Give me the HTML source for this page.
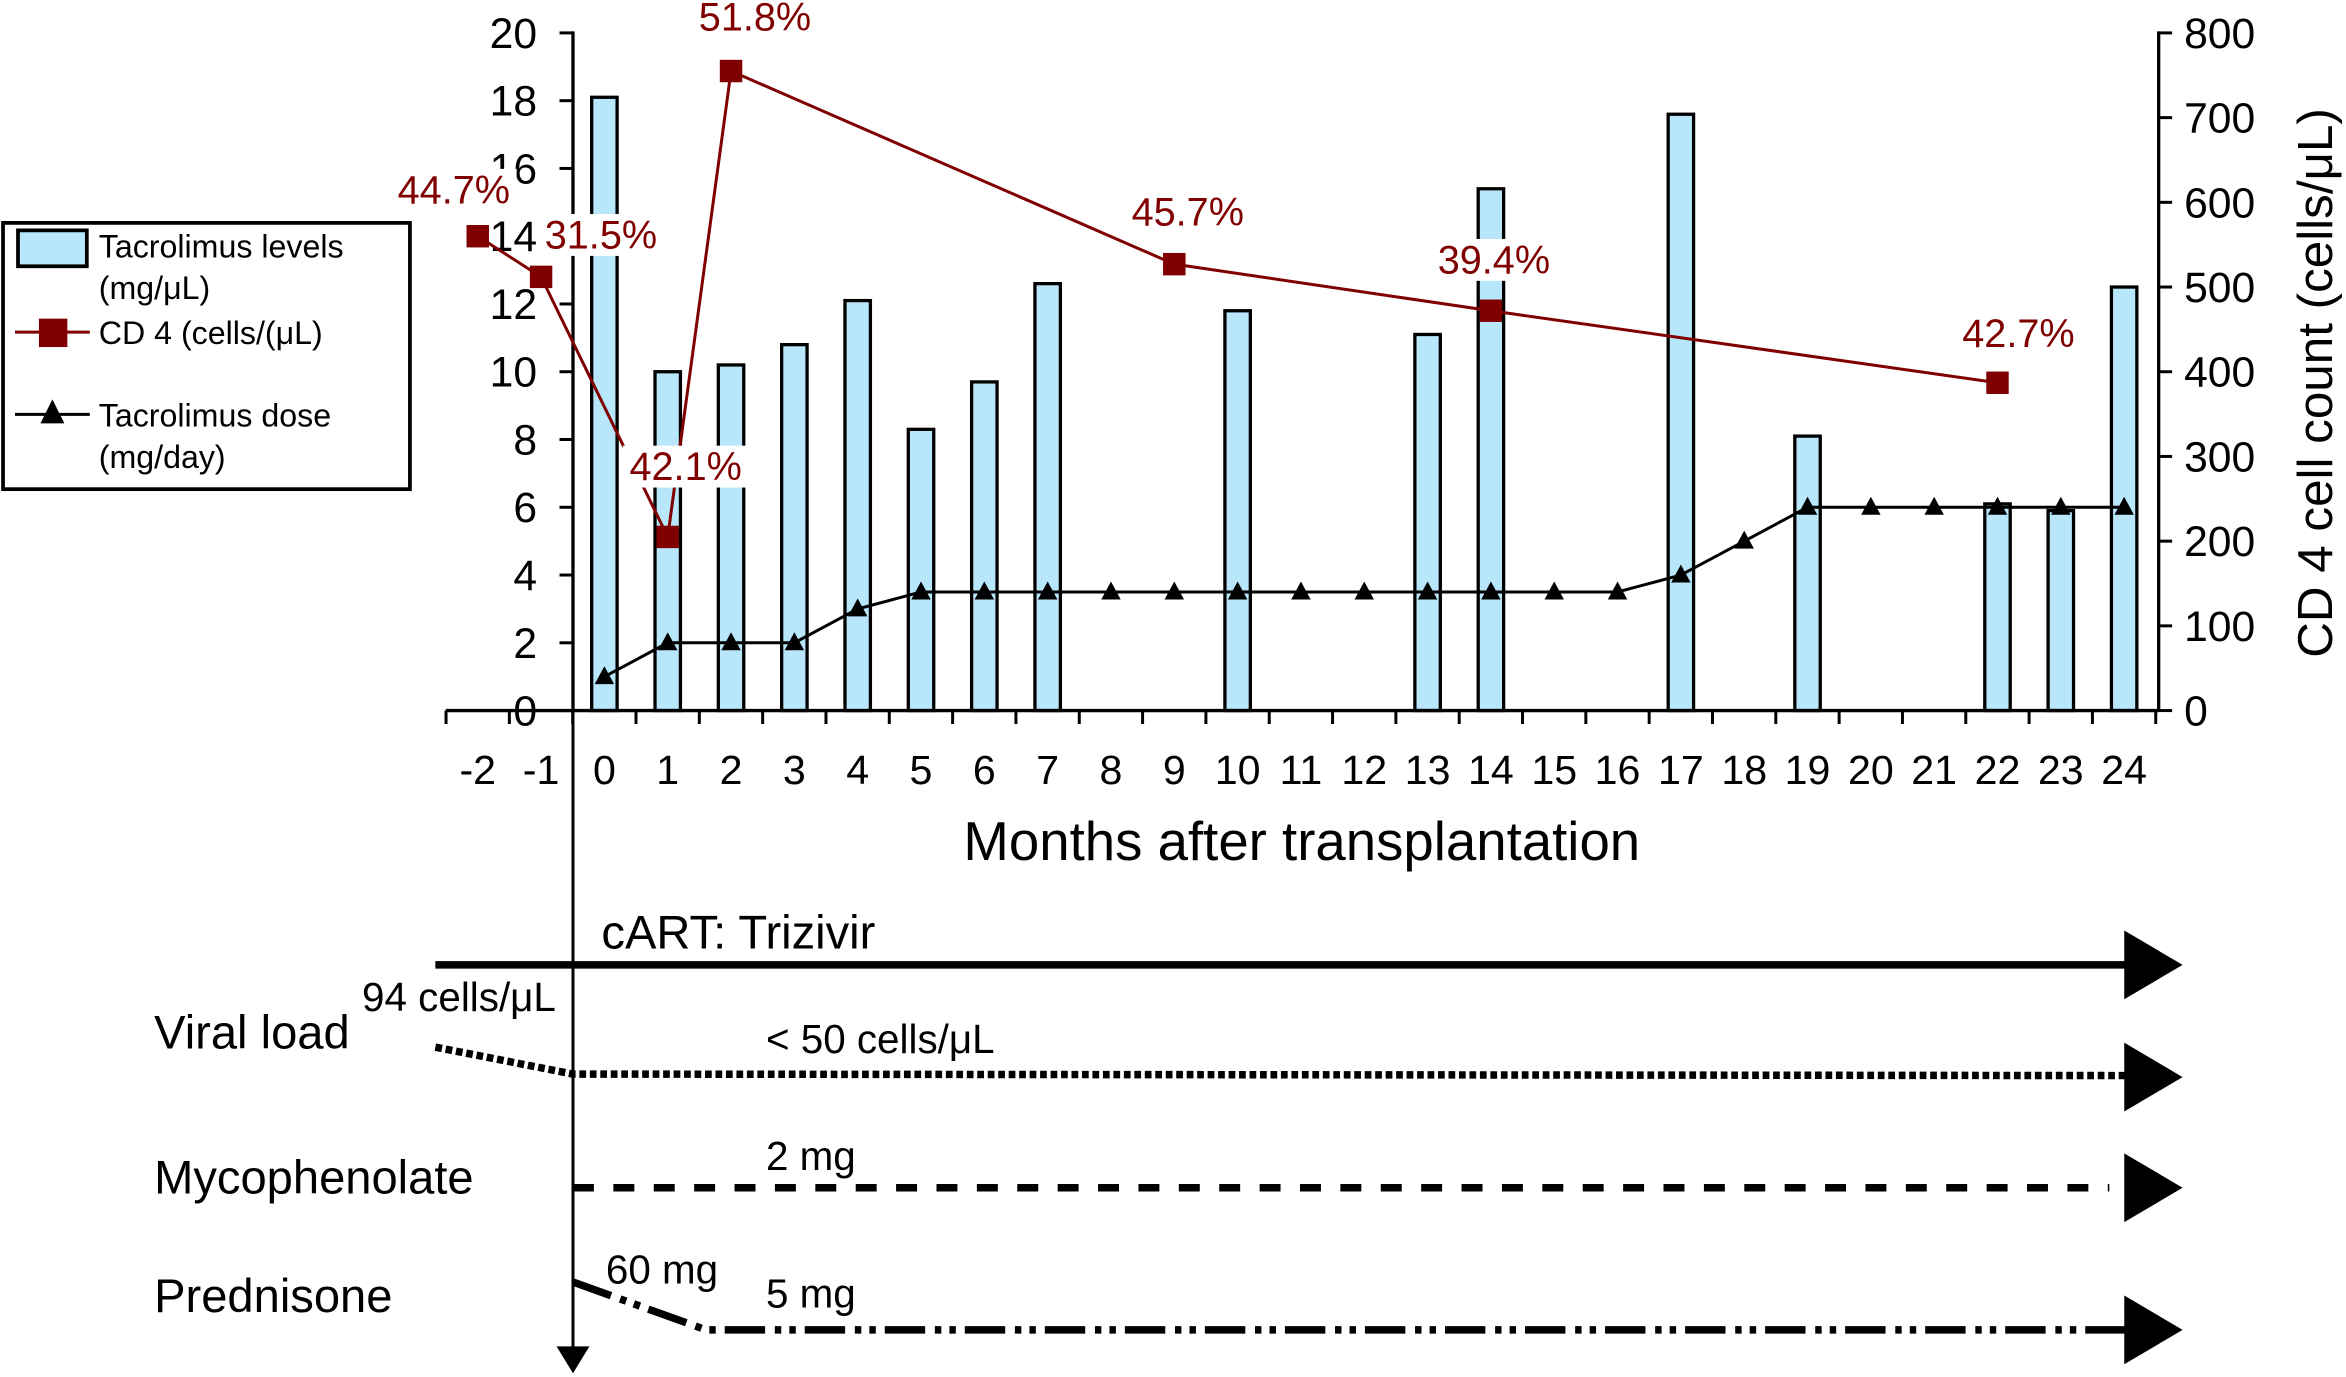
<!DOCTYPE html>
<html><head><meta charset="utf-8"><style>
html,body{margin:0;padding:0;background:#fff}
svg{display:block}
text{font-family:"Liberation Sans",sans-serif}
</style></head><body>
<svg id="chart" width="2346" height="1377" viewBox="0 0 1568.2 920.5" xmlns="http://www.w3.org/2000/svg">
<g id="g-plot"></g>
<g id="legend">
  <rect x="2" y="149" width="272" height="178" fill="#fff" stroke="#000" stroke-width="2.5"/>
  <rect x="12" y="154" width="46" height="24" fill="#b8e6fa" stroke="#000" stroke-width="2.5"/>
  <text x="66" y="172" font-size="21.5">Tacrolimus levels</text>
  <text x="66" y="200" font-size="21.5">(mg/μL)</text>
  <line x1="10" y1="222" x2="60" y2="222" stroke="#800000" stroke-width="2"/>
  <rect x="26" y="213" width="19" height="19" fill="#800000"/>
  <text x="66" y="230" font-size="21.5">CD 4 (cells/(μL)</text>
  <line x1="10" y1="277" x2="60" y2="277" stroke="#000" stroke-width="2"/>
  <polygon points="35,267 27,283 43,283" fill="#000"/>
  <text x="66" y="285" font-size="21.5">Tacrolimus dose</text>
  <text x="66" y="313" font-size="21.5">(mg/day)</text>
</g>
<g id="timeline">
  <text x="644" y="575" font-size="36.5">Months after transplantation</text>
  <line x1="383" y1="475" x2="383" y2="905" stroke="#000" stroke-width="2"/>
  <polygon points="372,900 394,900 383,918" fill="#000"/>
  <text x="402" y="634" font-size="31.5">cART: Trizivir</text>
  <line x1="291" y1="645" x2="1422" y2="645" stroke="#000" stroke-width="5"/>
  <polygon points="1420,622 1459,645 1420,668" fill="#000"/>
  <text x="103" y="701" font-size="31.5">Viral load</text>
  <text x="242" y="676" font-size="27">94 cells/μL</text>
  <text x="512" y="704" font-size="27">&lt; 50 cells/μL</text>
  <polyline points="291,700 383,718 1422,719" fill="none" stroke="#000" stroke-width="5" stroke-dasharray="4.5,2.5"/>
  <polygon points="1420,697 1459,720 1420,743" fill="#000"/>
  <text x="103" y="798" font-size="31.5">Mycophenolate</text>
  <text x="512" y="782" font-size="27">2 mg</text>
  <line x1="383" y1="794" x2="1410" y2="794" stroke="#000" stroke-width="5" stroke-dasharray="14,13"/>
  <polygon points="1420,771 1459,794 1420,817" fill="#000"/>
  <text x="103" y="877" font-size="31.5">Prednisone</text>
  <text x="405" y="858" font-size="27">60 mg</text>
  <text x="512" y="874" font-size="27">5 mg</text>
  <polyline points="383,857 472,889 1422,889" fill="none" stroke="#000" stroke-width="5" stroke-dasharray="27,6.5,4.3,5.4,4.3,6"/>
  <polygon points="1420,866 1459,889 1420,912" fill="#000"/>
</g>
</svg>
<script>
const months = [-2,-1,0,1,2,3,4,5,6,7,8,9,10,11,12,13,14,15,16,17,18,19,20,21,22,23,24];
const barMonths = [0,1,2,3,4,5,6,7,10,13,14,17,19,22,23,24];
const barLevels = [18.1,10,10.2,10.8,12.1,8.3,9.7,12.6,11.8,11.1,15.4,17.6,8.1,6.1,5.9,12.5];
const doseMonths = [0,1,2,3,4,5,6,7,8,9,10,11,12,13,14,15,16,17,18,19,20,21,22,23,24];
const doseValues = [1,2,2,2,3,3.5,3.5,3.5,3.5,3.5,3.5,3.5,3.5,3.5,3.5,3.5,3.5,4,5,6,6,6,6,6,6];
const cd4Months = [-2,-1,1,2,9,14,22];
const cd4Values = [560,512,205,755,527,472,387];
const cd4Labels = ["44.7%","31.5%","42.1%","51.8%","45.7%","39.4%","42.7%"];
const leftTicks = [0,2,4,6,8,10,12,14,16,18,20];
const rightTicks = [0,100,200,300,400,500,600,700,800];

const NS="http://www.w3.org/2000/svg";
const g=document.getElementById('g-plot');
const X0=404, DX=42.33, Y0=475, H=453;
const xM=m=>X0+m*DX;
const yL=v=>Y0-v/20*H;
const yR=v=>Y0-v/800*H;
function mk(tag,attrs,parent){const e=document.createElementNS(NS,tag);for(const k in attrs)e.setAttribute(k,attrs[k]);(parent||g).appendChild(e);return e;}

barMonths.forEach((m,i)=>{
  const r=mk('rect',{x:xM(m)-8.5,y:yL(barLevels[i]),width:17,height:Y0-yL(barLevels[i]),fill:'#b8e6fa',stroke:'#000','stroke-width':2.2});
  
  
});
const ax=mk('line',{x1:298,y1:Y0,x2:1443,y2:Y0,stroke:'#000','stroke-width':2.2});


const la=mk('line',{x1:383,y1:yL(20)-1,x2:383,y2:Y0,stroke:'#000','stroke-width':2.2});


const ra=mk('line',{x1:1443,y1:yR(800)-1,x2:1443,y2:Y0,stroke:'#000','stroke-width':2.2});


leftTicks.forEach(v=>{
  mk('line',{x1:374,y1:yL(v),x2:383,y2:yL(v),stroke:'#000','stroke-width':2});
  const t=mk('text',{x:359,y:yL(v)+10,'font-size':28.5,'text-anchor':'end'});t.textContent=v;
  
  
});
rightTicks.forEach(v=>{
  mk('line',{x1:1443,y1:yR(v),x2:1452,y2:yR(v),stroke:'#000','stroke-width':2});
  const t=mk('text',{x:1460,y:yR(v)+10,'font-size':28.5});t.textContent=v;
  
  
});
for(let m=-2;m<=25;m++){mk('line',{x1:xM(m)-21.2,y1:Y0,x2:xM(m)-21.2,y2:Y0+9,stroke:'#000','stroke-width':2});}
months.forEach(m=>{
  const t=mk('text',{x:xM(m),y:524,'font-size':27.5,'text-anchor':'middle'});t.textContent=m;
  
  
});
const rt=mk('text',{x:0,y:0,'font-size':33,'text-anchor':'middle',transform:'translate(1559,256) rotate(-90)'});
rt.textContent='CD 4 cell count (cells/μL)';


const dl=mk('polyline',{points:doseMonths.map((m,i)=>xM(m)+','+yL(doseValues[i])).join(' '),fill:'none',stroke:'#000','stroke-width':2});


doseMonths.forEach((m,i)=>{
  const x=xM(m),y=yL(doseValues[i]);
  const p=mk('polygon',{points:`${x},${y-7} ${x-6.5},${y+5} ${x+6.5},${y+5}`,fill:'#000'});
  
  
});
const cl=mk('polyline',{points:cd4Months.map((m,i)=>xM(m)+','+yR(cd4Values[i])).join(' '),fill:'none',stroke:'#800000','stroke-width':2});


cd4Months.forEach((m,i)=>{
  const x=xM(m),y=yR(cd4Values[i]);
  const r=mk('rect',{x:x-7.5,y:y-7.5,width:15,height:15,fill:'#800000'});
  
  
});
const labOff=[[-16,-25],[40,-22],[12,-41],[16,-30],[9,-29],[2,-28],[14,-27]];
cd4Months.forEach((m,i)=>{
  const x=xM(m)+labOff[i][0], y=yR(cd4Values[i])+labOff[i][1];
  const bg=mk('rect',{x:x-42,y:y-20,width:84,height:28,fill:'#fff'});
  
  
  const t=mk('text',{x:x,y:y+3,'font-size':26.5,'text-anchor':'middle',fill:'#800000'});
  t.textContent=cd4Labels[i];
  
  
});
</script>
</body></html>
